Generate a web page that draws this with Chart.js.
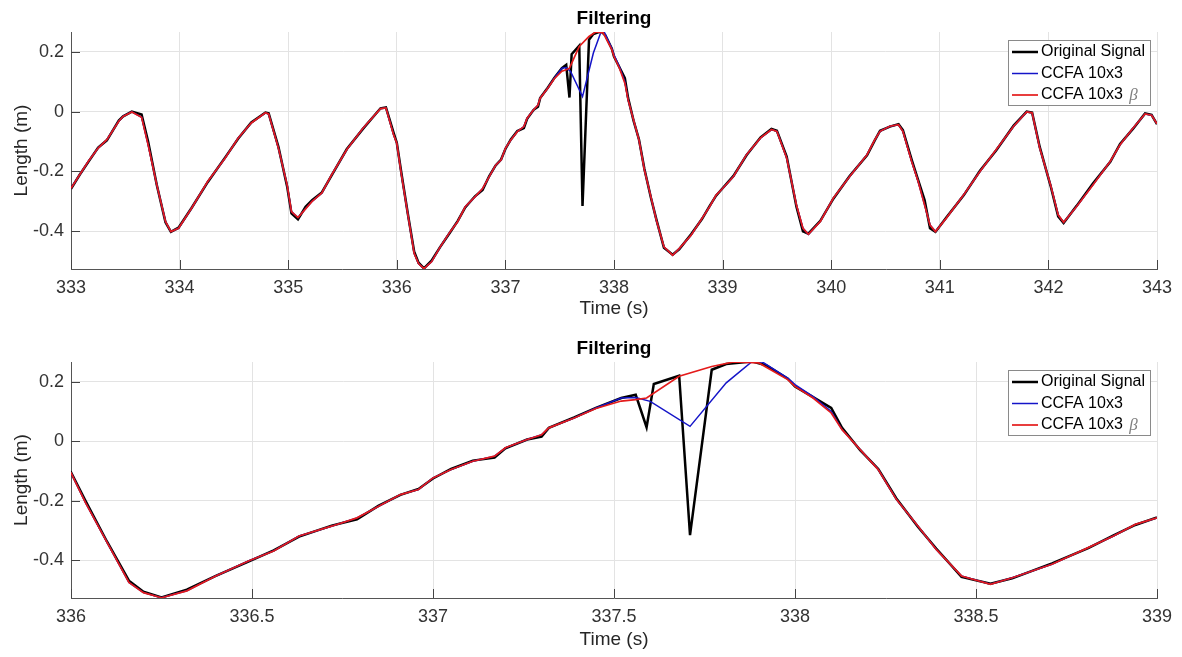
<!DOCTYPE html>
<html lang="en">
<head>
    <meta charset="UTF-8">
    <title>Filtering</title>
    <script src="https://cdn.jsdelivr.net/npm/chart.js"></script>
    <style>
        body {
            margin: 0;
            background-color: #ffffff;
        }
        .panel {
            position: absolute;
            left: 0;
        }
        .panel canvas {
            display: block;
        }
    </style>
</head>
<body>
    <div class="panel" style="top: 0;"><canvas id="topChart" width="1182" height="330"></canvas></div>
    <div class="panel" style="top: 330px;"><canvas id="zoomChart" width="1182" height="327"></canvas></div>

    <script>
        // time (s) and length (m)
        const time = [
            333.00, 333.08, 333.16, 333.25, 333.33, 333.44, 333.48, 333.56, 333.65, 333.71,
            333.79, 333.87, 333.92, 333.99, 334.11, 334.26, 334.42, 334.54, 334.66, 334.79,
            334.82, 334.91, 334.99, 335.03, 335.09, 335.16, 335.22, 335.31, 335.40, 335.54,
            335.69, 335.85, 335.90, 335.97, 336.00, 336.04, 336.10, 336.16, 336.20, 336.25,
            336.32, 336.40, 336.49, 336.56, 336.63, 336.72, 336.79, 336.85, 336.91, 336.96,
            337.00, 337.05, 337.11, 337.17, 337.20, 337.26, 337.30, 337.32, 337.39, 337.45,
            337.52, 337.56, 337.59, 337.60, 337.61, 337.68, 337.71, 337.77, 337.81, 337.83,
            337.88, 337.90, 337.91, 337.92, 337.98, 338.00, 338.05, 338.10, 338.13, 338.18,
            338.23, 338.28, 338.34, 338.39, 338.46, 338.54, 338.60, 338.71, 338.81, 338.88,
            338.94, 339.00, 339.10, 339.22, 339.35, 339.45, 339.50, 339.59, 339.68, 339.74,
            339.79, 339.90, 340.02, 340.17, 340.33, 340.40, 340.45, 340.54, 340.62, 340.66,
            340.74, 340.80, 340.86, 340.91, 340.96, 341.06, 341.22, 341.37, 341.52, 341.68,
            341.80, 341.85, 341.92, 342.02, 342.09, 342.14, 342.26, 342.41, 342.57, 342.66,
            342.78, 342.89, 342.95, 343.00
        ];

        const original = [
            -0.258, -0.211, -0.168, -0.120, -0.096, -0.030, -0.016, 0.000, -0.010, -0.100,
            -0.245, -0.370, -0.402, -0.388, -0.322, -0.235, -0.153, -0.090, -0.036, -0.003,
            -0.006, -0.118, -0.250, -0.340, -0.360, -0.318, -0.296, -0.270, -0.213, -0.125,
            -0.057, 0.011, 0.014, -0.070, -0.104, -0.200, -0.338, -0.468, -0.505, -0.524,
            -0.498, -0.452, -0.404, -0.366, -0.320, -0.283, -0.262, -0.216, -0.180, -0.160,
            -0.125, -0.093, -0.065, -0.055, -0.024, 0.006, 0.016, 0.045, 0.080, 0.112,
            0.145, 0.156, 0.047, null, 0.192, 0.220, -0.315, 0.240, 0.259, null,
            0.268, null, null, 0.255, 0.210, 0.184, 0.148, 0.112, 0.045, -0.030,
            -0.093, -0.192, -0.288, -0.360, -0.455, -0.478, -0.460, -0.410, -0.359, -0.316,
            -0.281, -0.256, -0.215, -0.146, -0.086, -0.058, -0.064, -0.150, -0.318, -0.400,
            -0.408, -0.365, -0.291, -0.215, -0.146, -0.097, -0.064, -0.050, -0.042, -0.062,
            -0.160, -0.228, -0.296, -0.390, -0.402, -0.354, -0.280, -0.198, -0.129, -0.047,
            0.000, -0.003, -0.118, -0.248, -0.350, -0.372, -0.315, -0.240, -0.168, -0.108,
            -0.057, -0.006, -0.011, -0.042
        ];

        const ccfa = [
            -0.256, -0.211, -0.166, -0.122, -0.094, -0.032, -0.016, -0.001, -0.019, -0.111,
            -0.245, -0.367, -0.401, -0.390, -0.323, -0.233, -0.155, -0.088, -0.038, -0.004,
            -0.008, -0.122, -0.245, -0.334, -0.354, -0.325, -0.300, -0.272, -0.211, -0.127,
            -0.055, 0.010, 0.012, -0.077, -0.106, -0.206, -0.340, -0.474, -0.508, -0.525,
            -0.502, -0.452, -0.402, -0.368, -0.318, -0.285, -0.257, -0.218, -0.179, -0.162,
            -0.123, -0.095, -0.067, -0.050, -0.022, 0.006, 0.022, 0.045, 0.078, 0.112,
            0.145, 0.147, null, 0.134, null, null, 0.050, null, 0.196, null,
            0.266, null, 0.266, null, 0.212, 0.190, 0.150, 0.100, 0.039, -0.028,
            -0.095, -0.195, -0.285, -0.363, -0.452, -0.480, -0.458, -0.413, -0.357, -0.318,
            -0.279, -0.257, -0.217, -0.144, -0.088, -0.060, -0.066, -0.155, -0.312, -0.390,
            -0.410, -0.367, -0.289, -0.217, -0.144, -0.095, -0.066, -0.049, -0.044, -0.066,
            -0.166, -0.233, -0.312, -0.379, -0.401, -0.356, -0.278, -0.200, -0.127, -0.049,
            -0.001, -0.004, -0.122, -0.245, -0.345, -0.370, -0.317, -0.245, -0.166, -0.111,
            -0.055, -0.008, -0.012, -0.041
        ];

        const ccfaBeta = [
            -0.256, -0.211, -0.166, -0.122, -0.094, -0.032, -0.016, -0.001, -0.019, -0.111,
            -0.245, -0.367, -0.401, -0.390, -0.323, -0.233, -0.155, -0.088, -0.038, -0.004,
            -0.008, -0.122, -0.245, -0.334, -0.354, -0.325, -0.300, -0.272, -0.211, -0.127,
            -0.055, 0.010, 0.012, -0.077, -0.106, -0.206, -0.340, -0.474, -0.508, -0.525,
            -0.502, -0.452, -0.402, -0.368, -0.318, -0.285, -0.257, -0.218, -0.179, -0.162,
            -0.123, -0.095, -0.067, -0.050, -0.022, 0.006, 0.022, 0.045, 0.078, 0.110,
            0.135, 0.140, 0.145, null, null, 0.218, null, 0.251, null, 0.266,
            null, 0.263, null, null, 0.207, 0.184, 0.145, 0.095, 0.039, -0.028,
            -0.095, -0.195, -0.285, -0.363, -0.452, -0.480, -0.458, -0.413, -0.357, -0.318,
            -0.279, -0.257, -0.217, -0.144, -0.088, -0.060, -0.066, -0.155, -0.312, -0.390,
            -0.410, -0.367, -0.289, -0.217, -0.144, -0.095, -0.066, -0.049, -0.044, -0.066,
            -0.166, -0.233, -0.312, -0.379, -0.401, -0.356, -0.278, -0.200, -0.127, -0.049,
            -0.001, -0.004, -0.122, -0.245, -0.345, -0.370, -0.317, -0.245, -0.166, -0.111,
            -0.055, -0.008, -0.012, -0.041
        ];

        const seriesLabels = ['Original Signal', 'CCFA 10x3', 'CCFA 10x3 β'];
        const yLimits = [-0.526, 0.266];

        const FONT = "'Liberation Sans', Arial, Helvetica, sans-serif";

        function toPoints(values) {
            return time.map((t, i) => ({ x: t, y: values[i] }));
        }

        // MATLAB-ish extras: inward ticks, bold title, boxed legend inside the axes
        const matlabLook = {
            id: 'matlabLook',
            beforeDatasetsDraw(chart) {
                const { ctx, chartArea: a, scales: { x, y } } = chart;
                ctx.save();
                ctx.strokeStyle = '#444444';
                ctx.lineWidth = 1;
                ctx.beginPath();
                x.ticks.forEach(t => {
                    const px = Math.round(x.getPixelForValue(t.value)) + 0.5;
                    ctx.moveTo(px, a.bottom);
                    ctx.lineTo(px, a.bottom - 9);
                });
                y.ticks.forEach(t => {
                    const py = Math.round(y.getPixelForValue(t.value)) + 0.5;
                    ctx.moveTo(a.left, py);
                    ctx.lineTo(a.left + 9, py);
                });
                ctx.stroke();
                ctx.restore();
            },
            afterDraw(chart) {
                const { ctx, chartArea: a } = chart;
                ctx.save();

                // title
                ctx.font = 'bold 19px ' + FONT;
                ctx.fillStyle = '#000000';
                ctx.textAlign = 'center';
                ctx.textBaseline = 'alphabetic';
                ctx.fillText('Filtering', (a.left + a.right) / 2, a.top - 8);

                // legend
                const w = 142, h = 65;
                const bx = a.right - 7 - w, by = a.top + 8;
                ctx.fillStyle = '#ffffff';
                ctx.fillRect(bx, by, w, h);
                ctx.strokeStyle = '#8a8a8a';
                ctx.lineWidth = 1;
                ctx.strokeRect(Math.round(bx) + 0.5, Math.round(by) + 0.5, w, h);

                ctx.textAlign = 'left';
                ctx.textBaseline = 'middle';
                chart.data.datasets.forEach((ds, i) => {
                    const ry = by + 12 + i * 21.5;
                    ctx.strokeStyle = ds.borderColor;
                    ctx.lineWidth = ds.borderWidth;
                    ctx.beginPath();
                    ctx.moveTo(bx + 4, ry);
                    ctx.lineTo(bx + 30, ry);
                    ctx.stroke();

                    ctx.fillStyle = '#000000';
                    ctx.font = '16px ' + FONT;
                    let label = ds.label;
                    const greek = label.endsWith('β');
                    if (greek) label = label.slice(0, -1);
                    ctx.fillText(label, bx + 33, ry);
                    if (greek) {
                        const lw = ctx.measureText(label).width;
                        ctx.font = "italic 17px 'Liberation Serif', 'DejaVu Serif', serif";
                        ctx.fillStyle = '#808080';
                        ctx.fillText('β', bx + 33 + lw + 2, ry + 1);
                    }
                });
                ctx.restore();
            }
        };

        function makeChart(canvasId, xMin, xMax, xStep, xAxisHeight, xTitlePad) {
            return new Chart(document.getElementById(canvasId), {
                type: 'line',
                data: {
                    datasets: [
                        { label: seriesLabels[0], data: toPoints(original), borderColor: '#000000', borderWidth: 2.5, order: 3 },
                        { label: seriesLabels[1], data: toPoints(ccfa), borderColor: '#1414c8', borderWidth: 1.5, order: 2 },
                        { label: seriesLabels[2], data: toPoints(ccfaBeta), borderColor: '#e41b1b', borderWidth: 1.7, order: 1 }
                    ]
                },
                options: {
                    responsive: false,
                    animation: false,
                    spanGaps: true,
                    elements: {
                        point: { radius: 0 },
                        line: { tension: 0 }
                    },
                    layout: { padding: { top: 32, right: 25, bottom: 0, left: 0 } },
                    plugins: {
                        legend: { display: false },
                        title: { display: false },
                        tooltip: { enabled: false }
                    },
                    scales: {
                        x: {
                            type: 'linear',
                            min: xMin,
                            max: xMax,
                            ticks: {
                                stepSize: xStep,
                                padding: 8,
                                color: '#333333',
                                font: { family: FONT, size: 18 },
                                callback: v => String(Math.round(v * 10) / 10)
                            },
                            grid: { color: '#e3e3e3', drawTicks: false },
                            border: { color: '#555555', width: 1 },
                            title: {
                                display: true,
                                text: 'Time (s)',
                                color: '#262626',
                                font: { family: FONT, size: 19 },
                                padding: { top: 0, bottom: xTitlePad }
                            },
                            afterFit: scale => {
                                scale.height = xAxisHeight;
                                scale.paddingLeft = 0;
                                scale.paddingRight = 0;
                            }
                        },
                        y: {
                            type: 'linear',
                            min: yLimits[0],
                            max: yLimits[1],
                            ticks: { stepSize: 0.2, includeBounds: false, padding: 7, color: '#333333', font: { family: FONT, size: 18 } },
                            grid: { color: '#e3e3e3', drawTicks: false },
                            border: { color: '#555555', width: 1 },
                            title: {
                                display: true,
                                text: 'Length (m)',
                                color: '#262626',
                                font: { family: FONT, size: 19 },
                                padding: { top: 10, bottom: 0 }
                            },
                            afterFit: scale => { scale.width = 71; }
                        }
                    }
                },
                plugins: [matlabLook]
            });
        }

        makeChart('topChart', 333, 343, 1, 61, 10);
        makeChart('zoomChart', 336, 339, 0.5, 59, 6);
    </script>
</body>
</html>
